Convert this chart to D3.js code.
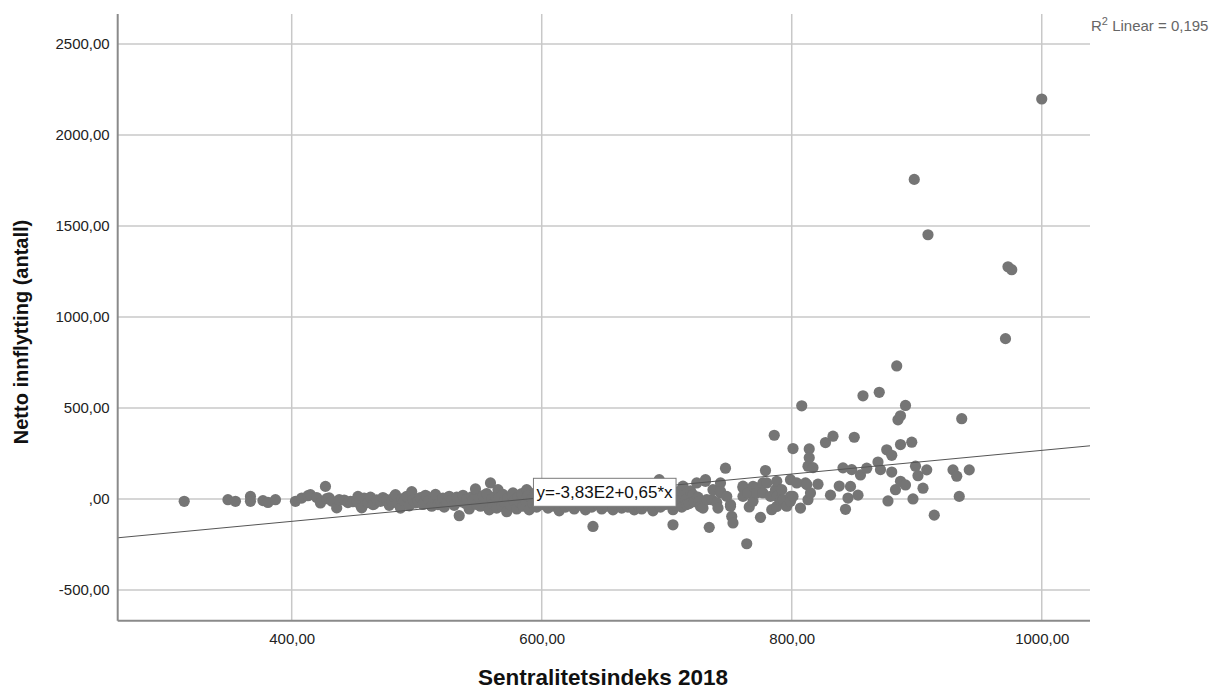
<!DOCTYPE html>
<html>
<head>
<meta charset="utf-8">
<script src="https://cdn.jsdelivr.net/npm/d3@7"></script>
<style>
  body { margin: 0; background: #fff; }
  text { font-family: "Liberation Sans", Arial, sans-serif; }
</style>
</head>
<body>
<div id="vis"></div>
<script>
// ticks as SPSS prints them
var xTicks = [400, 600, 800, 1000];
var xTickLabels = ['400,00', '600,00', '800,00', '1000,00'];
var yTicks = [-500, 0, 500, 1000, 1500, 2000, 2500];
var yTickLabels = ['-500,00', ',00', '500,00', '1000,00', '1500,00', '2000,00', '2500,00'];

// fit line: y = -383 + 0.65 * x, R2 = 0.195
var intercept = -383;
var slope = 0.65;
var equationText = 'y=-3,83E2+0,65*x';
var r2Text = '0,195';

// [sentralitetsindeks, netto innflytting]
var punkter = [
  [314,-13],[349,-4],[355,-13],[367,14],[367,-13],[377,-9],[381,-19],[387,-4],
  [403,-13],[408,5],[413,18],[415,24],[420,8],[423,-22],[427,69],[428,2],[430,6],[432,-12],
  [436,-49],[438,-4],[442,-6],[445,-20],[447,-13],[449,-15],
  [452,-8],[453,14],[455,-35],[456,-49],[458,5],[461,-20],[463,10],[465,-31],[466,-28],
  [468,-5],[471,-13],[473,8],[476,-4],[478,-35],[480,-15],[482,12],[483,24],[485,-25],
  [487,-50],[488,0],[490,-10],[492,15],[494,-38],[496,40],[497,-5],[499,-22],
  [501,-12],[503,8],[505,-30],[507,20],[508,14],[510,-8],[512,-40],[514,3],[515,25],
  [517,-31],[519,-10],[521,5],[522,-45],[524,-22],[526,15],[528,-5],[530,-35],[532,10],
  [534,-92],[535,-15],[537,20],[539,-25],[540,0],[542,-55],[544,12],[545,-8],[547,55],
  [548,-30],[550,5],
  [551,-40],[553,18],[555,-15],[556,30],[558,-60],[559,88],[560,0],[561,-28],[563,15],
  [564,-50],[565,51],[566,8],[568,-40],[569,25],[570,-15],[572,-70],[573,5],[575,-35],
  [576,20],[577,33],[578,-10],[580,-55],[581,10],[583,-22],[584,30],[585,-40],[587,-5],
  [588,51],[589,18],[590,-60],[592,0],[593,-25],[595,35],[596,-45],[598,10],[599,-15],
  [601,-30],[603,12],[605,-50],[607,25],[608,-10],[610,-40],[612,5],[614,-65],[615,20],
  [617,-20],[619,-45],[620,8],[622,-30],[624,15],[626,-55],[627,-5],[629,30],[631,-35],
  [633,0],[635,-60],[636,10],[638,-20],[640,-45],[641,-151],[643,5],[645,-30],[647,20],
  [648,-55],[650,-10],
  [652,-40],[654,15],[655,-20],[657,-60],[659,5],[660,-35],[662,25],[664,-50],[665,-10],
  [667,10],[669,-45],[670,-25],[672,30],[674,-60],[675,0],[677,-30],[679,15],[680,-55],
  [682,-15],[684,20],[686,-40],[687,5],[689,-65],[691,-20],[692,35],[694,106],[695,-45],
  [697,10],[699,-30],
  [702,-20],[704,15],[705,-142],[705,-59],[707,-35],[709,40],[710,-10],[712,-45],[713,70],
  [714,20],[715,-5],[716,-31],[718,-25],[719,45],[721,24],[722,-15],[724,88],[725,10],
  [726,-13],[727,-41],[729,-50],[731,106],[731,97],[732,-4],[734,-156],[736,-4],[737,51],
  [740,-20],[741,-50],[743,88],[743,33],[743,42],[747,169],[748,14],[751,-31],[751,-40],
  [752,-96],[753,-132],[761,61],[761,14],[761,70],[764,-246],[765,33],[766,-44],[769,-13],
  [769,69],[772,61],[772,33],[775,-101],[777,88],[777,33],[779,156],[780,88],[783,14],
  [784,-59],[786,350],[787,51],[788,14],[788,97],[788,-41],[791,-4],[792,51],[793,-4],
  [796,-40],[799,106],[799,14],[799,-13],
  [801,277],[801,14],[804,88],[807,-50],[808,512],[811,88],[812,79],[813,180],[813,-4],
  [814,275],[814,226],[815,33],[817,172],[821,81],[827,310],[831,21],[833,345],[838,71],
  [841,171],[843,-57],[845,5],[847,69],[848,161],[850,339],[853,21],[855,132],[857,567],
  [860,169],[869,203],[870,586],[871,161],[876,270],[877,-11],[880,240],[880,148],[883,51],
  [884,731],[885,435],[887,457],[887,299],[887,97],[891,514],[891,77],[896,312],[897,0],
  [898,1756],[899,180],[901,128],[905,59],[908,160],[909,1452],[914,-89],[929,160],
  [932,125],[934,14],[936,441],[942,160],[971,881],[973,1276],[976,1260],[1000,2198]
];

var width = 1215;
var height = 689;
var margin = { left: 117.7, right: 1090, top: 14, bottom: 620.7 };

var svg = d3.select('#vis')
  .append('svg')
  .attr('width', width)
  .attr('height', height);

var x = d3.scaleLinear()
  .domain([260.8, 1038.6])
  .range([margin.left, margin.right]);

var y = d3.scaleLinear()
  .domain([-669, 2665])
  .range([margin.bottom, margin.top]);

// gridlines
svg.append('g')
  .selectAll('line')
  .data(yTicks)
  .enter().append('line')
  .attr('x1', margin.left)
  .attr('x2', margin.right)
  .attr('y1', function (d) { return y(d); })
  .attr('y2', function (d) { return y(d); })
  .attr('stroke', '#c8c8c8')
  .attr('stroke-width', 1.5);

svg.append('g')
  .selectAll('line')
  .data(xTicks)
  .enter().append('line')
  .attr('x1', function (d) { return x(d); })
  .attr('x2', function (d) { return x(d); })
  .attr('y1', margin.top)
  .attr('y2', margin.bottom)
  .attr('stroke', '#c8c8c8')
  .attr('stroke-width', 1.5);

// axes
var yAxis = d3.axisLeft(y)
  .tickValues(yTicks)
  .tickFormat(function (d, i) { return yTickLabels[i]; })
  .tickSize(0)
  .tickPadding(8);

var xAxis = d3.axisBottom(x)
  .tickValues(xTicks)
  .tickFormat(function (d, i) { return xTickLabels[i]; })
  .tickSize(0)
  .tickPadding(13);

var gy = svg.append('g')
  .attr('transform', 'translate(' + margin.left + ',0)')
  .call(yAxis);

var gx = svg.append('g')
  .attr('transform', 'translate(0,' + margin.bottom + ')')
  .call(xAxis);

[gx, gy].forEach(function (g) {
  g.select('.domain').remove();
  g.selectAll('text')
    .attr('fill', '#222')
    .style('font-size', '15px')
    .style('font-family', '"Liberation Sans", Arial, sans-serif');
});

// points
svg.append('g')
  .selectAll('circle')
  .data(punkter)
  .enter().append('circle')
  .attr('cx', function (d) { return x(d[0]); })
  .attr('cy', function (d) { return y(d[1]); })
  .attr('r', 5.6)
  .attr('fill', '#757575');

// fit line
var xd = x.domain();
svg.append('line')
  .attr('x1', x(xd[0]))
  .attr('y1', y(intercept + slope * xd[0]))
  .attr('x2', x(xd[1]))
  .attr('y2', y(intercept + slope * xd[1]))
  .attr('stroke', '#555')
  .attr('stroke-width', 1);

// axis lines
svg.append('line')
  .attr('x1', margin.left).attr('x2', margin.left)
  .attr('y1', margin.top).attr('y2', margin.bottom)
  .attr('stroke', '#8a8a8a').attr('stroke-width', 2);
svg.append('line')
  .attr('x1', margin.left).attr('x2', margin.right)
  .attr('y1', margin.bottom).attr('y2', margin.bottom)
  .attr('stroke', '#8a8a8a').attr('stroke-width', 2);

// equation label
var eq = svg.append('g').attr('transform', 'translate(604.5,492.3)');
var eqText = eq.append('text')
  .attr('text-anchor', 'middle')
  .attr('dy', '0.36em')
  .style('font-size', '17px')
  .attr('fill', '#111')
  .text(equationText);
var bb = eqText.node().getBBox();
eq.insert('rect', 'text')
  .attr('x', bb.x - 3)
  .attr('y', -14)
  .attr('width', bb.width + 6)
  .attr('height', 28)
  .attr('fill', '#fff')
  .attr('stroke', '#7a7a7a')
  .attr('stroke-width', 1);

// R2 label
var r2 = svg.append('text')
  .attr('x', 1091)
  .attr('y', 31)
  .attr('fill', '#666')
  .style('font-size', '15px');
r2.append('tspan').text('R');
r2.append('tspan').attr('dy', -6).style('font-size', '11px').text('2');
r2.append('tspan').attr('dy', 6).text(' Linear = ' + r2Text);

// axis titles
svg.append('text')
  .attr('x', 603)
  .attr('y', 685)
  .attr('text-anchor', 'middle')
  .style('font-size', '22.5px')
  .style('font-weight', 'bold')
  .attr('fill', '#111')
  .text('Sentralitetsindeks 2018');

svg.append('text')
  .attr('transform', 'translate(28,332) rotate(-90)')
  .attr('text-anchor', 'middle')
  .style('font-size', '20px')
  .style('font-weight', 'bold')
  .attr('fill', '#111')
  .text('Netto innflytting (antall)');
</script>
</body>
</html>
